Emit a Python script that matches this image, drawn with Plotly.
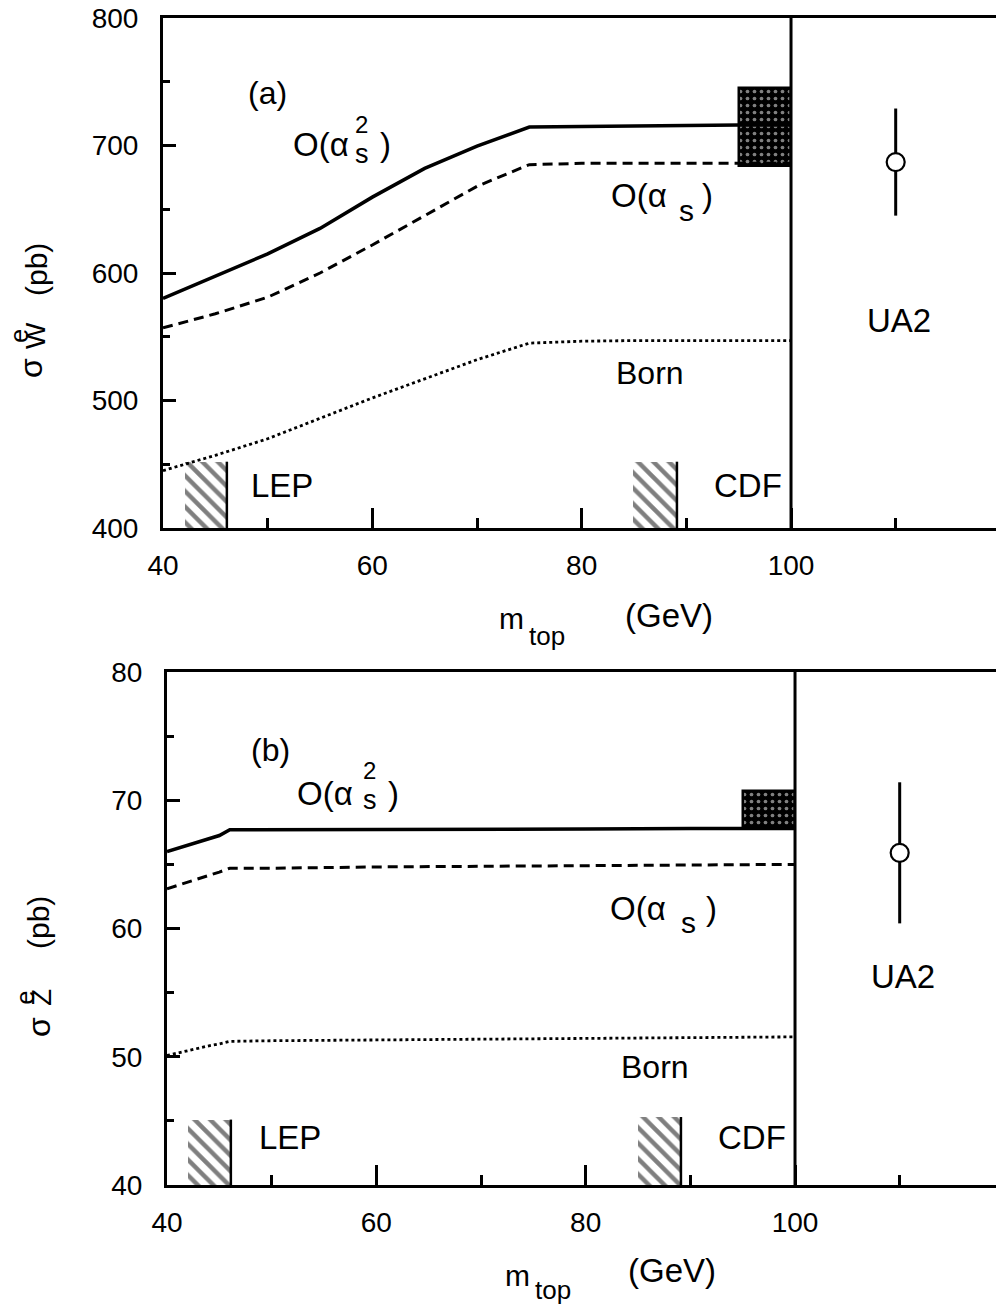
import plotly.graph_objects as go

W, H = 996, 1306
FONT = "Liberation Sans, Arial, sans-serif"

# ---------------- data: panel (a) sigma_W ----------------
mt_a = [40, 45, 50, 55, 60, 65, 70, 75, 80, 85, 90, 95, 100]
w_nnlo = [580, 597.5, 615, 635, 659.5, 682, 699.5, 714.5, 715, 715, 715.5, 716, 716]
w_nlo = [557, 568, 581, 600, 622, 645, 668, 685, 686, 686, 686, 686, 686]
w_born = [445, 457, 470, 486, 502, 517, 532, 545, 546.5, 547, 547, 547, 547]
w_cdf_box = [95, 100, 684, 745]          # x0, x1, y0, y1
w_ua2 = [110, 687, 42]                   # x, y, error
w_lep = [42.1, 46.1, 400, 452]           # hatched LEP exclusion
w_cdfhatch = [84.9, 89.1, 400, 452]      # hatched CDF exclusion

# ---------------- data: panel (b) sigma_Z ----------------
mt_b = [40, 42, 44, 45, 46, 50, 60, 70, 80, 90, 100]
z_nnlo = [66.0, 66.5, 67.0, 67.25, 67.7, 67.7, 67.7, 67.75, 67.75, 67.8, 67.8]
z_nlo = [63.1, 63.6, 64.1, 64.4, 64.7, 64.7, 64.8, 64.85, 64.9, 65.0, 65.0]
z_born = [50.1, 50.5, 50.85, 51.0, 51.2, 51.25, 51.3, 51.4, 51.45, 51.5, 51.55]
z_cdf_box = [95, 100, 67.8, 70.7]
z_ua2 = [110, 65.9, 5.5]
z_lep = [42.0, 46.1, 40, 45.1]
z_cdfhatch = [85.0, 89.1, 40, 45.3]

xticks = [40, 60, 80, 100]

fig = go.Figure()


def add_panel(xa, ya, mt, nnlo, nlo, born, box, ua2, lep, cdfh):
    kw = dict(xaxis=xa, yaxis=ya, showlegend=False, hoverinfo="skip")
    # hatched exclusion regions
    for reg in (lep, cdfh):
        fig.add_trace(go.Bar(x=[(reg[0] + reg[1]) / 2], y=[reg[3] - reg[2]], base=[reg[2]],
                             width=[reg[1] - reg[0]],
                             marker=dict(color="white", line=dict(width=0),
                                         pattern=dict(shape="\\", fgcolor="black", bgcolor="white",
                                                      size=11, solidity=0.4)), **kw))
        fig.add_trace(go.Scatter(x=[reg[1], reg[1]], y=[reg[2], reg[3]], mode="lines",
                                 line=dict(color="black", width=2.5), **kw))
    # theory curves
    fig.add_trace(go.Scatter(x=mt, y=born, mode="lines",
                             line=dict(color="black", width=2.8, dash="3px,3px"), **kw))
    fig.add_trace(go.Scatter(x=mt, y=nlo, mode="lines",
                             line=dict(color="black", width=3, dash="10px,6px"), **kw))
    fig.add_trace(go.Scatter(x=mt, y=nnlo, mode="lines",
                             line=dict(color="black", width=3.5), **kw))
    # CDF measurement box
    fig.add_trace(go.Bar(x=[(box[0] + box[1]) / 2], y=[box[3] - box[2]], base=[box[2]],
                         width=[box[1] - box[0]],
                         marker=dict(color="black", line=dict(color="black", width=2.5),
                                     pattern=dict(shape=".", fgcolor="white", bgcolor="black",
                                                  size=7, solidity=0.22)), **kw))
    # UA2 measurement
    fig.add_trace(go.Scatter(x=[ua2[0]], y=[ua2[1]], mode="markers",
                             marker=dict(symbol="circle", size=18, color="white",
                                         line=dict(color="black", width=2.2)),
                             error_y=dict(type="data", array=[ua2[2]], color="black",
                                          thickness=3, width=0), **kw))


add_panel("x", "y", mt_a, w_nnlo, w_nlo, w_born, w_cdf_box, w_ua2, w_lep, w_cdfhatch)
add_panel("x2", "y2", mt_b, z_nnlo, z_nlo, z_born, z_cdf_box, z_ua2, z_lep, z_cdfhatch)


def xaxis(left_px, xr):
    return dict(domain=[left_px / W, 1], range=xr, showline=True, linewidth=3, linecolor="black",
                mirror=True, showgrid=False, zeroline=False, ticks="inside", ticklen=20,
                tickwidth=3, tickcolor="black", tickvals=xticks, automargin=False,
                minor=dict(tickvals=[50, 70, 90, 110], ticks="inside", ticklen=10, tickwidth=2.5,
                           tickcolor="black", showgrid=False),
                tickfont=dict(family=FONT, size=28, color="black"), ticklabelstandoff=10)


def yaxis(top_px, bot_px, yr, dt):
    return dict(domain=[1 - bot_px / H, 1 - top_px / H], range=yr, showline=True, linewidth=3,
                linecolor="black", mirror=False, showgrid=False, zeroline=False,
                ticks="inside", ticklen=13, tickwidth=3, tickcolor="black", dtick=dt,
                automargin=False,
                minor=dict(dtick=dt / 2, ticks="inside", ticklen=7, tickwidth=2.5,
                           tickcolor="black", showgrid=False),
                tickfont=dict(family=FONT, size=28, color="black"), ticklabelstandoff=16)


xa_a = xaxis(163, [40, 40 + (W - 163) / 10.467])
xa_b = xaxis(167, [40, 40 + (W - 167) / 10.467])
xa_b["anchor"] = "y2"
ya_b = yaxis(672, 1185, [40, 80], 10)
ya_b["anchor"] = "x2"

shapes = []
for xr, yr in (("x", "y domain"), ("x2", "y2 domain")):
    shapes.append(dict(type="line", xref=xr, yref=yr, x0=100, x1=100, y0=0, y1=1,
                       line=dict(color="black", width=3)))


def ann(text, xp, yp, size, angle=0, xanchor="center"):
    return dict(text=text, x=xp / W, y=1 - yp / H, xref="paper", yref="paper",
                xanchor=xanchor, yanchor="middle", showarrow=False, textangle=angle,
                borderpad=0, font=dict(family=FONT, size=size, color="black"))


def sp(t, s):
    return f"<span style='font-size:{s}px'>{t}</span>"


SUPSUB2 = sp("2", 24) + "<br>" + sp("s", 27)
SUP_E_W = sp("e", 25) + "<br>" + sp("W", 28)
SUP_E_Z = sp("e", 25) + "<br>" + sp("Z", 28)

anns = [
    # panel (a)
    ann("(a)", 267, 93, 32),
    ann("O(α", 350, 144, 33, xanchor="right"), ann(SUPSUB2, 354, 140, 23, xanchor="left"),
    ann(")", 379, 144, 33, xanchor="left"),
    ann("O(α", 668, 196, 33, xanchor="right"), ann("s", 678, 210, 30, xanchor="left"),
    ann(")", 701, 196, 33, xanchor="left"),
    ann("Born", 650, 373, 32),
    ann("LEP", 282, 485, 33),
    ann("CDF", 748, 485, 33),
    ann("UA2", 899, 320, 33),
    ann("m", 512, 618, 30), ann("top", 547, 636, 26), ann("(GeV)", 669, 615, 33),
    ann("(pb)", 36, 270, 30, -90), ann("σ", 31, 368, 32, -90),
    ann(SUP_E_W, 28, 336, 13, -90),
    # panel (b)
    ann("(b)", 270, 750, 32),
    ann("O(α", 354, 793, 33, xanchor="right"), ann(SUPSUB2, 362, 786, 23, xanchor="left"),
    ann(")", 387, 793, 33, xanchor="left"),
    ann("O(α", 667, 908, 33, xanchor="right"), ann("s", 680, 922, 30, xanchor="left"),
    ann(")", 705, 908, 33, xanchor="left"),
    ann("Born", 655, 1067, 32),
    ann("LEP", 290, 1137, 33),
    ann("CDF", 752, 1137, 33),
    ann("UA2", 903, 976, 33),
    ann("m", 517, 1275, 30), ann("top", 553, 1290, 26), ann("(GeV)", 672, 1270, 33),
    ann("(pb)", 38, 923, 30, -90), ann("σ", 39, 1027, 32, -90),
    ann(SUP_E_Z, 34, 998, 13, -90),
]

fig.update_layout(
    width=W, height=H, margin=dict(l=0, r=0, t=0, b=0, autoexpand=False),
    paper_bgcolor="white", plot_bgcolor="white", barmode="overlay", bargap=0,
    showlegend=False,
    xaxis=dict(xa_a, anchor="y"),
    yaxis=dict(yaxis(18, 528, [400, 800], 100), anchor="x"),
    xaxis2=xa_b, yaxis2=ya_b,
    shapes=shapes, annotations=anns,
    font=dict(family=FONT, color="black"),
)

fig.write_html("out.html")
